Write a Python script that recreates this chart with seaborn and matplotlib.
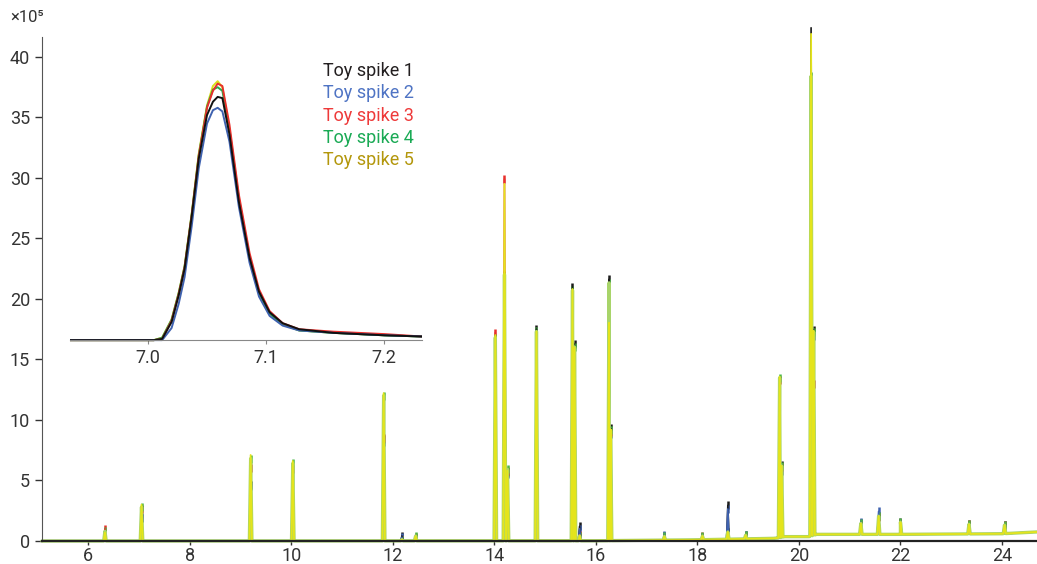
import numpy as np
import pandas as pd
import matplotlib
matplotlib.use("Agg")
import matplotlib.pyplot as plt
import seaborn as sns

sns.set_style("ticks")
plt.rcParams['font.family'] = ['Roboto', 'DejaVu Sans']

samples = ["Toy spike 1", "Toy spike 2", "Toy spike 3", "Toy spike 4", "Toy spike 5"]
label_colors = ["#231f20", "#4f74c4", "#ee3a3a", "#1aaa55", "#b3970c"]
line_colors = ["#1c1c1c", "#3f62b0", "#e8302c", "#4cb848", "#e4e41c"]

# baseline drift (x10^5)
base_rt = [5.09, 16.0, 18.0, 19.5, 19.58, 19.72, 20.2, 20.35, 22.0, 24.0, 24.7]
base_level = [0.0, 0.02, 0.1, 0.22, 0.25, 0.36, 0.36, 0.55, 0.55, 0.6, 0.75]

# peak apexes, retention time (min) and height above baseline (x10^5)
peak_rt = [6.33, 7.05, 9.20, 10.03, 11.82, 12.18, 12.45, 14.02, 14.20, 14.26,
           14.83, 15.54, 15.58, 15.68, 16.26, 16.29, 17.35, 18.10, 18.60, 18.95,
           19.62, 19.66, 20.24, 20.29, 21.22, 21.57, 22.00, 23.35, 24.05]
spike1 = [0.6, 1.9, 4.6, 3.2, 8.4, 0.4, 0.1, 9.8, 20.6, 5.7, 17.5, 21.0, 16.3, 1.2,
          21.6, 9.3, 0.3, 0.2, 2.8, 0.3, 4.3, 6.0, 42.0, 17.0, 0.9, 1.5, 1.0, 0.8, 0.7]
spike2 = [0.5, 2.0, 4.5, 3.0, 8.2, 0.3, 0.2, 9.5, 19.8, 5.5, 11.5, 16.0, 5.0, 1.0,
          9.0, 8.8, 0.4, 0.2, 2.5, 0.3, 4.0, 5.5, 18.8, 16.5, 1.0, 1.9, 0.9, 0.7, 0.7]
spike3 = [1.0, 2.6, 6.0, 5.9, 8.5, 0.1, 0.3, 17.2, 29.9, 5.8, 11.8, 12.0, 5.2, 0.5,
          8.8, 9.0, 0.2, 0.3, 0.6, 0.2, 13.0, 5.8, 12.1, 12.5, 0.8, 1.4, 0.9, 0.8, 0.7]
spike4 = [0.8, 2.8, 6.8, 6.4, 12.0, 0.1, 0.4, 16.8, 22.0, 5.9, 17.3, 20.7, 16.0, 0.4,
          21.3, 9.1, 0.3, 0.3, 0.6, 0.3, 13.2, 5.9, 38.0, 16.8, 0.9, 1.5, 1.0, 0.8, 0.7]
spike5 = [0.7, 3.0, 7.1, 6.6, 12.2, 0.1, 0.4, 17.0, 29.5, 5.8, 17.3, 20.8, 16.0, 0.4,
          18.0, 9.2, 0.3, 0.3, 0.6, 0.3, 13.3, 5.9, 41.5, 16.9, 0.9, 1.5, 1.0, 0.8, 0.7]
heights = [spike1, spike2, spike3, spike4, spike5]

# zoom on the 7.05 min peak (x10^5, main axis units)
inset_rt = [6.934, 6.96, 6.99, 7.005, 7.012, 7.020, 7.026, 7.031, 7.037, 7.043, 7.050, 7.055,
            7.059, 7.063, 7.069, 7.077, 7.086, 7.094, 7.103, 7.114, 7.128, 7.157, 7.20, 7.232]
inset1 = [16.6, 16.6, 16.6, 16.6, 16.7, 18.1, 20.3, 22.5, 26.8, 31.6, 35.2, 36.3,
          36.7, 36.6, 33.6, 28.0, 23.4, 20.6, 18.9, 18.0, 17.5, 17.2, 17.0, 16.9]
inset2 = [16.6, 16.6, 16.6, 16.6, 16.6, 17.6, 19.6, 21.8, 26.0, 30.8, 34.5, 35.6,
          35.8, 35.5, 33.0, 27.6, 23.0, 20.2, 18.6, 17.8, 17.4, 17.2, 17.0, 16.9]
inset3 = [16.6, 16.6, 16.6, 16.6, 16.7, 18.2, 20.4, 22.6, 26.9, 31.8, 35.8, 37.2,
          37.8, 37.6, 34.4, 28.6, 23.8, 20.8, 19.0, 18.0, 17.5, 17.3, 17.1, 16.9]
inset4 = [16.6, 16.6, 16.6, 16.6, 16.8, 18.3, 20.5, 22.7, 27.0, 31.9, 35.9, 37.3,
          37.5, 37.2, 34.0, 28.3, 23.5, 20.5, 18.8, 17.9, 17.4, 17.2, 17.0, 16.9]
inset5 = [16.6, 16.6, 16.6, 16.6, 16.8, 18.3, 20.5, 22.7, 27.0, 32.0, 36.0, 37.6,
          38.0, 37.5, 34.0, 28.2, 23.5, 20.5, 18.8, 17.9, 17.4, 17.2, 17.0, 16.9]
insets = [inset1, inset2, inset3, inset4, inset5]

HW = 0.025  # half width of a peak foot, min


def trace(h):
    rt = list(base_rt)
    for t in peak_rt:
        rt += [t - HW, t + HW]
    rt = np.array(sorted(rt))
    y = np.interp(rt, base_rt, base_level)
    apex_base = np.interp(peak_rt, base_rt, base_level)
    rt = np.concatenate([rt, peak_rt])
    y = np.concatenate([y, apex_base + np.array(h)])
    order = np.argsort(rt, kind="stable")
    return pd.DataFrame({"rt": rt[order], "abundance": y[order]})


fig = plt.figure(figsize=(10.37, 5.64), dpi=100)
W, H = 1037, 564
ax = fig.add_axes([42 / W, 23 / H, 995 / W, 504 / H])

widths = [1.2, 1.2, 1.2, 2.4, 1.3]
for name, h, c, lw in zip(samples, heights, line_colors, widths):
    df = trace(h)
    if name == "Toy spike 4":
        c = "#a8d46a"
    sns.lineplot(data=df, x="rt", y="abundance", color=c, lw=lw, estimator=None,
                 sort=False, ax=ax)

# sample points of the darker traces showing through the yellow
for name, h, c in zip(samples[:4], heights[:4], line_colors[:4]):
    pts = pd.DataFrame({"rt": peak_rt,
                        "abundance": np.interp(peak_rt, base_rt, base_level) + np.array(h)})
    sns.scatterplot(data=pts, x="rt", y="abundance", color=c, marker="|", s=30,
                    linewidth=1.8, ax=ax)

ax.set_xlim(5.09, 24.69)
ax.set_ylim(0, 41.65)
ax.set_xticks(range(6, 25, 2))
ax.set_yticks(range(0, 41, 5))
ax.set_xlabel("")
ax.set_ylabel("")
ax.tick_params(axis="both", labelsize=13, colors="#333333", length=5, width=1)
ax.tick_params(axis="x", length=3, pad=1)
ax.spines["top"].set_visible(False)
ax.spines["right"].set_visible(False)
ax.spines["left"].set_color("#555555")
ax.spines["bottom"].set_color("#222222")
ax.spines["bottom"].set_linewidth(1.6)
for ln in ax.lines:
    ln.set_clip_on(False)

fig.text(10 / W, 1 - 18 / H, "×10⁵", fontsize=12, color="#333333", va="center")

# inset
axi = fig.add_axes([70 / W, 23 / H, 352 / W, 504 / H])
axi.patch.set_alpha(0)
inset_colors = ["#111111", "#3f62b0", "#e8302c", "#2aa84a", "#d8e01a"]
for name, vals, c in zip(samples[::-1], insets[::-1], inset_colors[::-1]):
    dfi = pd.DataFrame({"rt": inset_rt, "abundance": vals})
    sns.lineplot(data=dfi, x="rt", y="abundance", color=c, lw=1.4, estimator=None,
                 sort=False, ax=axi)
axi.set_xlim(6.934, 7.232)
axi.set_ylim(0, 41.65)
axi.set_xticks([7.0, 7.1, 7.2])
axi.set_xticklabels(["7.0", "7.1", "7.2"])
axi.set_yticks([])
axi.set_xlabel("")
axi.set_ylabel("")
for s in ["top", "right", "left"]:
    axi.spines[s].set_visible(False)
axi.spines["bottom"].set_position(("data", 16.6))
axi.spines["bottom"].set_color("#888888")
axi.tick_params(axis="x", labelsize=13, colors="#333333", length=3, color="#888888")

# legend as coloured text
for i, (name, c) in enumerate(zip(samples, label_colors)):
    fig.text(323 / W, 1 - (71 + 22.3 * i) / H, name, color=c, fontsize=13, va="center")

fig.savefig("out.png", dpi=100)
